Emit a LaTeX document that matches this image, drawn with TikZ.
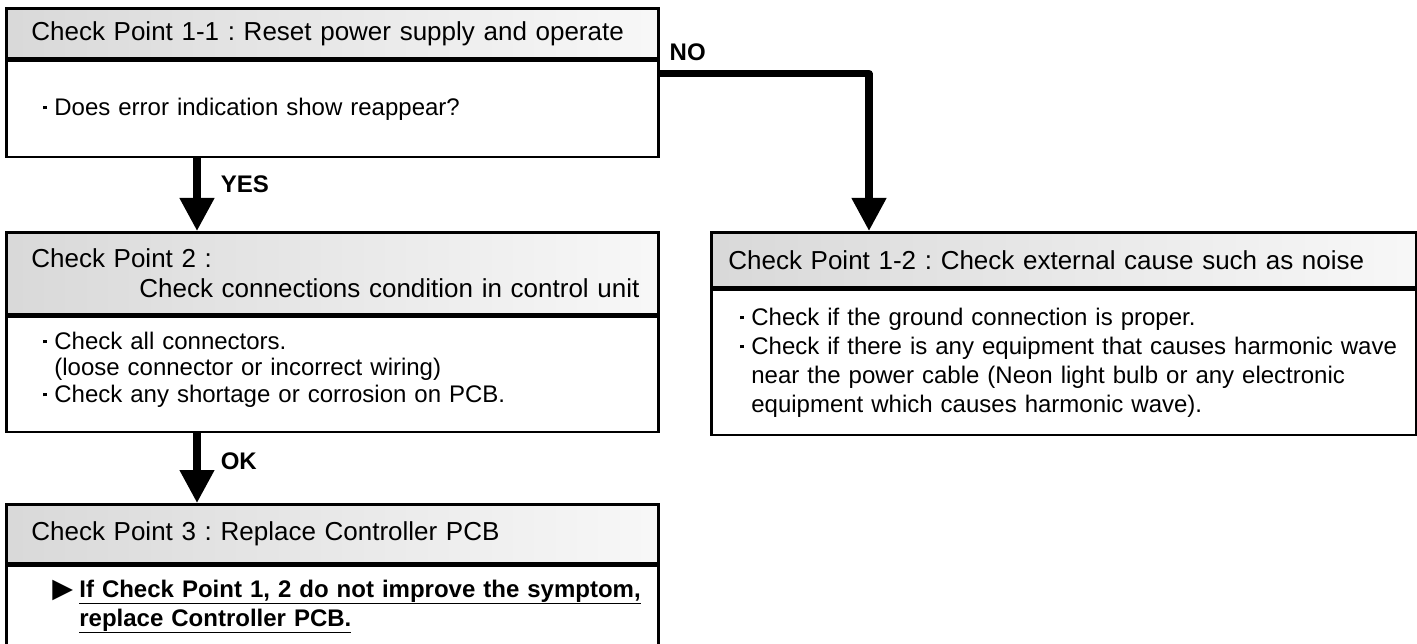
\documentclass[tikz,border=0pt]{standalone}
\usepackage{fontspec}
\setmainfont{Liberation Sans}
\newfontfamily\symfont{DejaVu Sans}
\usetikzlibrary{arrows.meta,positioning}
\frenchspacing
\newcommand{\sqbul}{\makebox[11pt][l]{\rule[6pt]{3.5pt}{3.5pt}}}
\newcommand{\tribul}{\makebox[27pt][l]{\fontsize{27}{24}\symfont ▶}}

\begin{document}
\begin{tikzpicture}[x=1pt,y=-1pt,
  head/.style={draw,line width=2.7pt,left color=black!15,right color=black!3,align=left,anchor=north west,inner xsep=25pt,inner ysep=0pt,font=\fontsize{26}{30}\selectfont},
  body/.style={draw,line width=2.7pt,fill=white,align=left,anchor=north west,inner xsep=37pt,inner ysep=0pt,font=\fontsize{24}{29}\selectfont},
  flow/.style={-{Triangle[length=33pt,width=33pt]},line width=7.5pt,line join=round},
  lbl/.style={font=\bfseries\fontsize{24}{28}\selectfont,anchor=west,inner sep=0pt}]
  \useasboundingbox (0,0) rectangle (1417,644);

  \node[head,text width=602pt,minimum height=50pt] (cp11h) at (5,7) {Check Point 1-1 : Reset power supply and operate};
  \node[body,text width=578pt,minimum height=96pt] (cp11b) at (cp11h.south west) {\sqbul Does error indication show reappear?};
  \node[head,text width=602pt,minimum height=82pt] (cp2h) at (5,231) {Check Point 2 :\\\mbox{\hspace*{108pt}Check connections condition in control unit}};
  \node[body,text width=578pt,minimum height=115pt,font=\fontsize{24}{26.5}\selectfont] (cp2b) at (cp2h.south west) {\sqbul Check all connectors.\\\hspace*{11pt}(loose connector or incorrect wiring)\\\sqbul Check any shortage or corrosion on PCB.\\[-12pt]\mbox{}};
  \node[head,text width=602pt,minimum height=59pt] (cp3h) at (5,503) {Check Point 3 : Replace Controller PCB};
  \node[body,text width=612pt,inner xsep=20pt,minimum height=81pt,font=\bfseries\fontsize{24}{29}\selectfont] (cp3b) at (cp3h.south west) {\hspace*{26pt}\tribul\underline{If Check Point 1, 2 do not improve the symptom,}\\\hspace*{53pt}\underline{replace Controller PCB.}};
  \node[head,text width=671pt,inner xsep=17pt,minimum height=55pt] (cp12h) at (710,231) {Check Point 1-2 : Check external cause such as noise};
  \node[body,text width=647pt,inner xsep=29pt,minimum height=145pt] (cp12b) at (cp12h.south west) {\sqbul Check if the ground connection is proper.\\\mbox{\sqbul Check if there is any equipment that causes harmonic wave}\\\hspace*{11pt}near the power cable (Neon light bulb or any electronic\\\hspace*{11pt}equipment which causes harmonic wave).};

  \draw[flow] ([xshift=192pt]cp11b.south west) -- node[lbl,pos=.35,xshift=20pt] {YES} ([xshift=192pt]cp2h.north west);
  \draw[flow] ([xshift=192pt]cp2b.south west) -- node[lbl,pos=.4,xshift=20pt] {OK} ([xshift=192pt]cp3h.north west);
  \draw[flow] ([yshift=-14pt]cp11b.north east) -| node[lbl,pos=.015,yshift=21pt] {NO} ([xshift=159pt]cp12h.north west);
\end{tikzpicture}
\end{document}
